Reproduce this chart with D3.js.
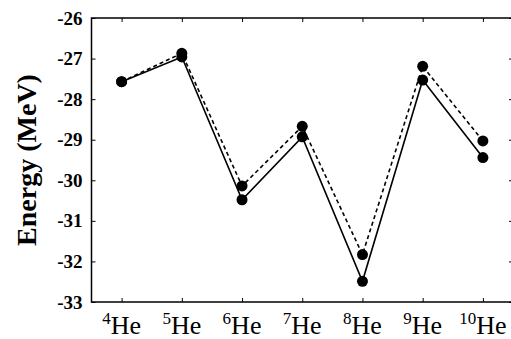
<!DOCTYPE html>
<html>
<head>
<meta charset="utf-8">
<script src="https://cdn.jsdelivr.net/npm/d3@7"></script>
<style>
  body { margin: 0; background: #fff; }
</style>
</head>
<body>
<div id="chart"></div>
<script>
// isotopes along the x axis
const massNumbers = [4, 5, 6, 7, 8, 9, 10]
// solid line values
const solidEnergy = [-27.57, -26.96, -30.48, -28.93, -32.49, -27.53, -29.44]
// dashed line values
const dashedEnergy = [-27.57, -26.87, -30.14, -28.67, -31.83, -27.19, -29.03]
const yTicks = [-26, -27, -28, -29, -30, -31, -32, -33]

const serif = "'Liberation Serif', 'Times New Roman', serif"
const W = 511, H = 339
let margin = {top: 18, right: -2, bottom: 37, left: 91.5}
let width = W - margin.left - margin.right,
    height = H - margin.top - margin.bottom

let svg = d3.select("#chart").append("svg")
    .attr("width", W)
    .attr("height", H)

let g = svg.append("g")
    .attr("transform", `translate(${margin.left},${margin.top})`)

let x = d3.scaleLinear().domain([3.5, 10.5]).range([0, width])
let y = d3.scaleLinear().domain([-33, -26]).range([height, 0])

const tickLen = 4

// frame
g.append("rect")
    .attr("x", 0).attr("y", 0)
    .attr("width", width).attr("height", height)
    .attr("fill", "none")
    .attr("stroke", "#000")
    .attr("stroke-width", 1.5)

// bottom ticks
let xAxis = g.append("g")
    .attr("transform", `translate(0,${height})`)
    .call(d3.axisBottom(x).tickValues(massNumbers).tickSize(-tickLen).tickFormat(""))
xAxis.select(".domain").remove()

// top ticks
let xTop = g.append("g")
    .call(d3.axisTop(x).tickValues(massNumbers).tickSize(-tickLen).tickFormat(""))
xTop.select(".domain").remove()

// isotope labels with superscripts
let lbl = g.append("g").selectAll("text")
    .data(massNumbers)
    .enter().append("text")
    .attr("x", d => x(d))
    .attr("y", height + 32)
    .attr("text-anchor", "middle")
    .style("font-family", serif)
    .style("font-size", "26px")
lbl.append("tspan")
    .attr("dy", "-10")
    .style("font-size", "17px")
    .text(d => d)
lbl.append("tspan")
    .attr("dy", "10")
    .text("He")

// left axis
let yAxis = g.append("g")
    .call(d3.axisLeft(y).tickValues(yTicks).tickSize(-tickLen).tickPadding(9)
        .tickFormat(d => String(d)))
yAxis.select(".domain").remove()
yAxis.selectAll(".tick text")
    .style("font-family", serif)
    .style("font-size", "19px")
    .style("font-weight", "bold")
    .attr("fill", "#000")

// right ticks
let yRight = g.append("g")
    .attr("transform", `translate(${width},0)`)
    .call(d3.axisRight(y).tickValues(yTicks).tickSize(-tickLen).tickFormat(""))
yRight.select(".domain").remove()

// y label
svg.append("text")
    .attr("transform", `translate(36,${margin.top + height / 2}) rotate(-90)`)
    .attr("text-anchor", "middle")
    .style("font-family", serif)
    .style("font-size", "28px")
    .style("font-weight", "bold")
    .text("Energy (MeV)")

let line = d3.line()
    .x((d, i) => x(massNumbers[i]))
    .y(d => y(d))

g.append("path")
    .datum(dashedEnergy)
    .attr("d", line)
    .attr("fill", "none")
    .attr("stroke", "#000")
    .attr("stroke-width", 1.6)
    .attr("stroke-dasharray", "4,3")

g.append("path")
    .datum(solidEnergy)
    .attr("d", line)
    .attr("fill", "none")
    .attr("stroke", "#000")
    .attr("stroke-width", 1.6)

g.append("g").selectAll("circle.d")
    .data(dashedEnergy)
    .enter().append("circle")
    .attr("cx", (d, i) => x(massNumbers[i]))
    .attr("cy", d => y(d))
    .attr("r", 5.5)
    .attr("fill", "#000")

g.append("g").selectAll("circle.s")
    .data(solidEnergy)
    .enter().append("circle")
    .attr("cx", (d, i) => x(massNumbers[i]))
    .attr("cy", d => y(d))
    .attr("r", 5.5)
    .attr("fill", "#000")
</script>
</body>
</html>
